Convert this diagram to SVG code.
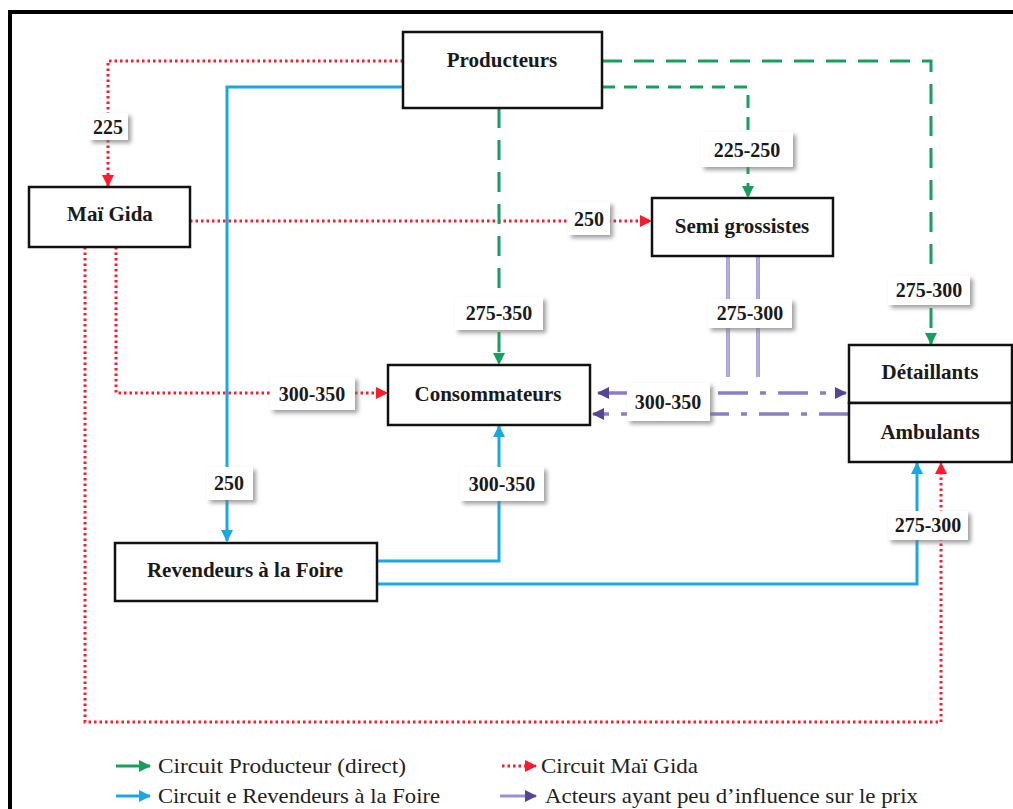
<svg xmlns="http://www.w3.org/2000/svg" width="1013" height="809" viewBox="0 0 1013 809">
<style>
.node{fill:#fff;stroke:#111;stroke-width:2.5}
.nt{font-family:"Liberation Serif","Times New Roman",serif;font-weight:bold;font-size:21px;fill:#1a1a1a;text-anchor:middle;dominant-baseline:central}
.lb{fill:#fff;filter:url(#sh)}
.lt{font-family:"Liberation Serif","Times New Roman",serif;font-weight:bold;font-size:20px;fill:#1a1a1a;text-anchor:middle;dominant-baseline:central}
.red{fill:none;stroke:#ff1a2a;stroke-width:3;stroke-dasharray:2.5 3}
.blue{fill:none;stroke:#18a8e2;stroke-width:3}
.green{fill:none;stroke:#16a05e;stroke-width:3;stroke-dasharray:20 12}
.green2{fill:none;stroke:#16a05e;stroke-width:3;stroke-dasharray:13 9}
.pur{fill:none;stroke:#8a7ec8;stroke-width:3.5}
.purd{fill:none;stroke:#8a7ec8;stroke-width:3.5;stroke-dasharray:30 12 6 12}
.pin{fill:none;stroke:#e4e0f4;stroke-width:1}
.leg{font-family:"Liberation Serif","Times New Roman",serif;font-size:22px;fill:#222}
</style>
<defs>
<filter id="sh" x="-20%" y="-20%" width="150%" height="160%">
<feDropShadow dx="3" dy="3" stdDeviation="2" flood-color="#777" flood-opacity="0.7"/>
</filter>
<marker id="aR" markerUnits="userSpaceOnUse" markerWidth="12" markerHeight="12" refX="11" refY="6" orient="auto-start-reverse"><path d="M0,0 L12,6 L0,12 z" fill="#ff1a2a"/></marker>
<marker id="aB" markerUnits="userSpaceOnUse" markerWidth="12" markerHeight="12" refX="11" refY="6" orient="auto-start-reverse"><path d="M0,0 L12,6 L0,12 z" fill="#18a8e2"/></marker>
<marker id="aG" markerUnits="userSpaceOnUse" markerWidth="12" markerHeight="12" refX="11" refY="6" orient="auto-start-reverse"><path d="M0,0 L12,6 L0,12 z" fill="#16a05e"/></marker>
<marker id="aP" markerUnits="userSpaceOnUse" markerWidth="12" markerHeight="12" refX="11" refY="6" orient="auto-start-reverse"><path d="M0,0 L12,6 L0,12 z" fill="#55449a"/></marker>
</defs>
<rect width="1013" height="809" fill="#fff"/>
<path d="M10,809 V12 H1013" fill="none" stroke="#000" stroke-width="4"/>

<g id="connectors">
<path class="red" d="M403,61 H108 V186" marker-end="url(#aR)"/>
<path class="red" d="M190,221 H651" marker-end="url(#aR)"/>
<path class="red" d="M116,247 V393 H387" marker-end="url(#aR)"/>
<path class="red" d="M85,247 V722 H941 V463" marker-end="url(#aR)"/>
<path class="blue" d="M403,87 H227 V541" marker-end="url(#aB)"/>
<path class="blue" d="M377,561 H499 V426" marker-end="url(#aB)"/>
<path class="blue" d="M377,584 H917 V463" marker-end="url(#aB)"/>
<path class="green" d="M499,108 V364" marker-end="url(#aG)"/>
<path class="green" d="M602,61 H931 V344" marker-end="url(#aG)"/>
<path class="green2" d="M602,87 H748 V197" marker-end="url(#aG)"/>
<path class="pur" d="M728,256 V377"/>
<path class="pur" d="M758,256 V377"/>
<path class="pin" d="M728,256 V377"/>
<path class="pin" d="M758,256 V377"/>
<path class="purd" d="M598,393 H846" marker-start="url(#aP)" marker-end="url(#aP)"/>
<path class="purd" d="M849,414 H593" marker-end="url(#aP)"/>
</g>

<g id="labels">
<rect class="lb" x="89" y="113" width="39" height="27"/><text class="lt" x="108" y="127">225</text>
<rect class="lb" x="701" y="132" width="92" height="35"/><text class="lt" x="747" y="150">225-250</text>
<rect class="lb" x="568" y="202" width="42" height="33"/><text class="lt" x="589" y="219">250</text>
<rect class="lb" x="455" y="297" width="88" height="33"/><text class="lt" x="499" y="313">275-350</text>
<rect class="lb" x="708" y="299" width="84" height="29"/><text class="lt" x="750" y="313">275-300</text>
<rect class="lb" x="888" y="276" width="82" height="29"/><text class="lt" x="929" y="290">275-300</text>
<rect class="lb" x="270" y="377" width="85" height="33"/><text class="lt" x="312" y="394">300-350</text>
<rect class="lb" x="627" y="383" width="83" height="38"/><text class="lt" x="668" y="402">300-350</text>
<rect class="lb" x="207" y="467" width="46" height="33"/><text class="lt" x="229" y="483">250</text>
<rect class="lb" x="460" y="467" width="84" height="34"/><text class="lt" x="502" y="484">300-350</text>
<rect class="lb" x="888" y="511" width="80" height="29"/><text class="lt" x="928" y="525">275-300</text>
</g>

<g id="producteurs"><rect class="node" x="403" y="32" width="199" height="76"/><text class="nt" x="502" y="60">Producteurs</text></g>
<g id="maigida"><rect class="node" x="29" y="187" width="161" height="60"/><text class="nt" x="110" y="214">Maï Gida</text></g>
<g id="semigrossistes"><rect class="node" x="652" y="198" width="181" height="58"/><text class="nt" x="742" y="226">Semi grossistes</text></g>
<g id="consommateurs"><rect class="node" x="388" y="365" width="202" height="60"/><text class="nt" x="488" y="394">Consommateurs</text></g>
<g id="detaillants"><rect class="node" x="849" y="345" width="163" height="58"/><text class="nt" x="930" y="372">Détaillants</text></g>
<g id="ambulants"><rect class="node" x="849" y="403" width="163" height="59"/><text class="nt" x="930" y="432">Ambulants</text></g>
<g id="revendeurs"><rect class="node" x="115" y="543" width="262" height="58"/><text class="nt" x="245" y="570">Revendeurs à la Foire</text></g>

<g id="legend">
<path d="M116,766 H150" stroke="#16a05e" stroke-width="3" marker-end="url(#aG)"/>
<text class="leg" x="158" y="773" textLength="248" lengthAdjust="spacingAndGlyphs">Circuit Producteur (direct)</text>
<path d="M116,796 H150" stroke="#18a8e2" stroke-width="3" marker-end="url(#aB)"/>
<text class="leg" x="158" y="803" textLength="282" lengthAdjust="spacingAndGlyphs">Circuit e Revendeurs à la Foire</text>
<path d="M502,766 H536" class="red" marker-end="url(#aR)"/>
<text class="leg" x="541" y="773" textLength="157" lengthAdjust="spacingAndGlyphs">Circuit Maï Gida</text>
<path d="M500,796 H536" stroke="#9a8fd4" stroke-width="3" marker-end="url(#aP)"/>
<text class="leg" x="545" y="803" textLength="373" lengthAdjust="spacingAndGlyphs">Acteurs ayant peu d’influence sur le prix</text>
</g>
</svg>
